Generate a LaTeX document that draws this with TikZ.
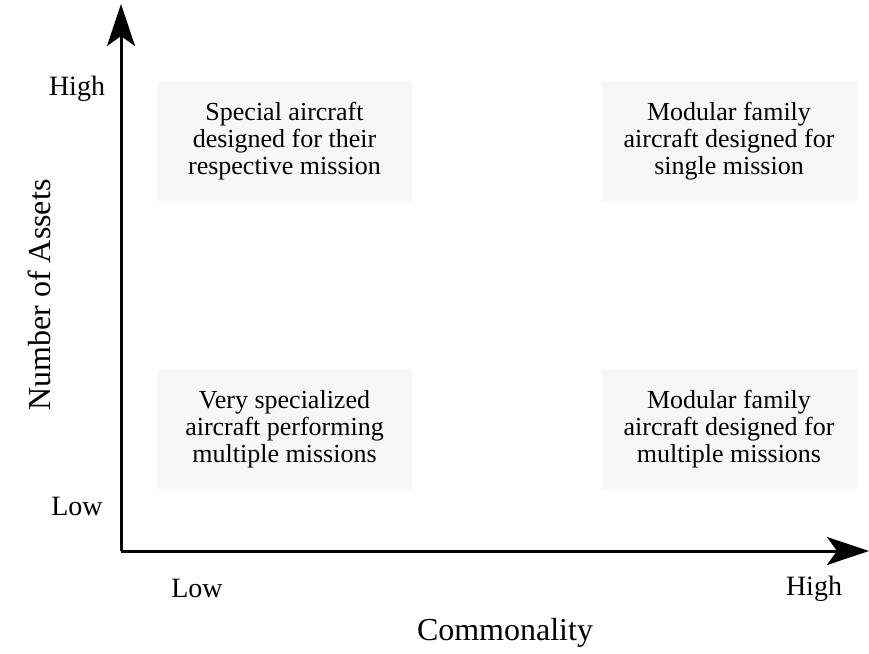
\documentclass[tikz,border=0pt]{standalone}
\usepackage{fontspec}
\setmainfont{Liberation Serif}
\usetikzlibrary{arrows.meta}
\definecolor{cellgray}{HTML}{F7F7F7}
\tikzset{
  axis/.style={line width=3pt,-{Stealth[length=42pt,width=28pt,inset=10pt]}},
  cell/.style={fill=cellgray,minimum width=255pt,minimum height=120pt,align=center,
    font=\fontsize{26}{26.8}\selectfont,inner sep=0pt},
  ticklabel/.style={font=\fontsize{28}{30}\selectfont,inner sep=0pt},
  axislabel/.style={font=\fontsize{32}{34}\selectfont,inner sep=0pt}
}
\begin{document}
\begin{tikzpicture}[x=1pt,y=-1pt]
  \useasboundingbox (0,0) rectangle (869,653);
  % quadrant cells
  \node[cell] (tl) at (284.5,141) {Special aircraft\\designed for their\\respective mission};
  \node[cell] (tr) at (729,141) {Modular family\\aircraft designed for\\single mission};
  \node[cell] (bl) at (284.5,429) {Very specialized\\aircraft performing\\multiple missions};
  \node[cell] (br) at (729,429) {Modular family\\aircraft designed for\\multiple missions};
  % axes
  \coordinate (origin) at (121,551);
  \coordinate (ytip) at (121,4);
  \coordinate (xtip) at (869,551);
  \draw[axis] (origin) -- (ytip);
  \draw[axis] (origin) -- (xtip);
  % tick labels
  \node[ticklabel,anchor=base] (yhigh) at (77,95) {High};
  \node[ticklabel,anchor=base] (ylow) at (77,515) {Low};
  \node[ticklabel,anchor=base] (xlow) at (197,597) {Low};
  \node[ticklabel,anchor=base] (xhigh) at (814,595) {High};
  % axis titles
  \node[axislabel,anchor=base] (xtitle) at (505,640) {Commonality};
  \node[axislabel,anchor=base,rotate=90] (ytitle) at (50,295) {Number of Assets};
\end{tikzpicture}
\end{document}
